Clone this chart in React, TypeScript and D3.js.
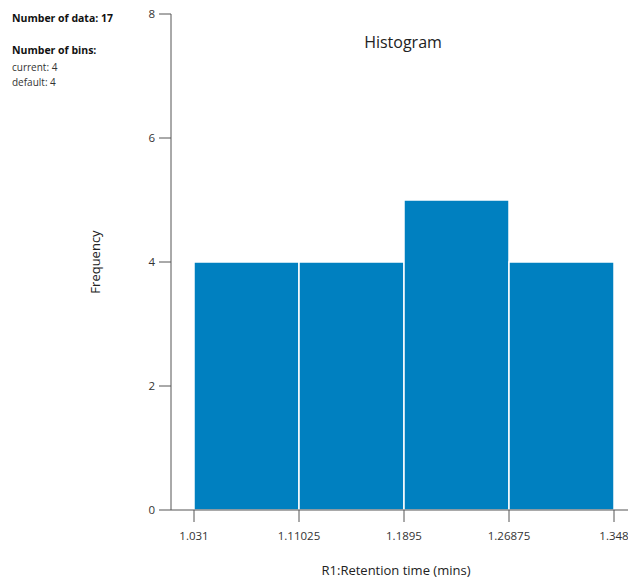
import React, { useEffect, useRef } from "react";
import * as d3 from "d3";

const binEdges = [1.031, 1.11025, 1.1895, 1.26875, 1.348];
const binCounts = [4, 4, 5, 4];
const yTicks = [0, 2, 4, 6, 8];
const infoLines = ["current: 4", "default: 4"];

const App = () => {
  const svgRef = useRef<SVGSVGElement>(null);

  useEffect(() => {
    const svg = d3.select(svgRef.current);
    svg.selectAll("*").remove();

    const font = "'Open Sans', 'Noto Sans', sans-serif";
    const axisLeft = 171;
    const axisRight = 628;
    const baseY = 510;

    const x = d3
      .scaleLinear()
      .domain([binEdges[0], binEdges[binEdges.length - 1]])
      .range([194, 614]);
    const y = d3.scaleLinear().domain([0, 8]).range([baseY, 14]);

    const bins = binCounts.map((c, i) => ({ x0: binEdges[i], x1: binEdges[i + 1], count: c }));

    // bars
    svg
      .append("g")
      .selectAll("rect")
      .data(bins)
      .join("rect")
      .attr("x", (d) => x(d.x0))
      .attr("y", (d) => y(d.count))
      .attr("width", (d) => x(d.x1) - x(d.x0))
      .attr("height", (d) => y(0) - y(d.count))
      .attr("fill", "#0080c0")
      .attr("stroke", "#ffffff")
      .attr("stroke-width", 1.5);

    const axisColor = "#555";

    // y axis
    const yAxis = svg.append("g");
    yAxis
      .append("line")
      .attr("x1", axisLeft)
      .attr("x2", axisLeft)
      .attr("y1", y(8))
      .attr("y2", baseY)
      .attr("stroke", axisColor);
    const yt = yAxis.selectAll("g").data(yTicks).join("g");
    yt.append("line")
      .attr("x1", axisLeft - 12)
      .attr("x2", axisLeft)
      .attr("y1", (d) => y(d))
      .attr("y2", (d) => y(d))
      .attr("stroke", axisColor);
    yt.append("text")
      .attr("x", axisLeft - 16)
      .attr("y", (d) => y(d))
      .attr("dy", "0.35em")
      .attr("text-anchor", "end")
      .attr("font-family", font)
      .attr("font-size", 11.5)
      .attr("fill", "#333")
      .text((d) => d);

    // x axis
    const xAxis = svg.append("g");
    xAxis
      .append("line")
      .attr("x1", axisLeft)
      .attr("x2", axisRight)
      .attr("y1", baseY)
      .attr("y2", baseY)
      .attr("stroke", axisColor);
    const xt = xAxis.selectAll("g").data(binEdges).join("g");
    xt.append("line")
      .attr("x1", (d) => x(d))
      .attr("x2", (d) => x(d))
      .attr("y1", baseY)
      .attr("y2", baseY + 12)
      .attr("stroke", axisColor);
    xt.append("text")
      .attr("x", (d) => x(d))
      .attr("y", baseY + 30)
      .attr("text-anchor", "middle")
      .attr("font-family", font)
      .attr("font-size", 11.5)
      .attr("fill", "#333")
      .text((d) => String(d));

    // titles
    svg
      .append("text")
      .attr("x", 403)
      .attr("y", 48)
      .attr("text-anchor", "middle")
      .attr("font-family", font)
      .attr("font-size", 16)
      .attr("fill", "#222")
      .text("Histogram");

    svg
      .append("text")
      .attr("x", 396)
      .attr("y", 575)
      .attr("text-anchor", "middle")
      .attr("font-family", font)
      .attr("font-size", 13)
      .attr("fill", "#222")
      .text("R1:Retention time (mins)");

    svg
      .append("text")
      .attr("transform", `translate(100,262) rotate(-90)`)
      .attr("text-anchor", "middle")
      .attr("font-family", font)
      .attr("font-size", 13)
      .attr("fill", "#222")
      .text("Frequency");

    // info panel
    svg
      .append("text")
      .attr("x", 12)
      .attr("y", 22)
      .attr("font-family", font)
      .attr("font-size", 10.5)
      .attr("font-weight", "bold")
      .attr("fill", "#111")
      .text(`Number of data: ${d3.sum(binCounts)}`);
    svg
      .append("text")
      .attr("x", 12)
      .attr("y", 54)
      .attr("font-family", font)
      .attr("font-size", 10.5)
      .attr("font-weight", "bold")
      .attr("fill", "#111")
      .text("Number of bins:");
    svg
      .append("g")
      .selectAll("text")
      .data(infoLines)
      .join("text")
      .attr("x", 12)
      .attr("y", (d, i) => 71 + i * 15)
      .attr("font-family", font)
      .attr("font-size", 10)
      .attr("fill", "#333")
      .text((d) => d);
  }, []);

  return (
    <svg
      ref={svgRef}
      width={628}
      height={578}
      style={{ position: "absolute", left: 0, top: 0, background: "white", display: "block" }}
    />
  );
};

export default App;
